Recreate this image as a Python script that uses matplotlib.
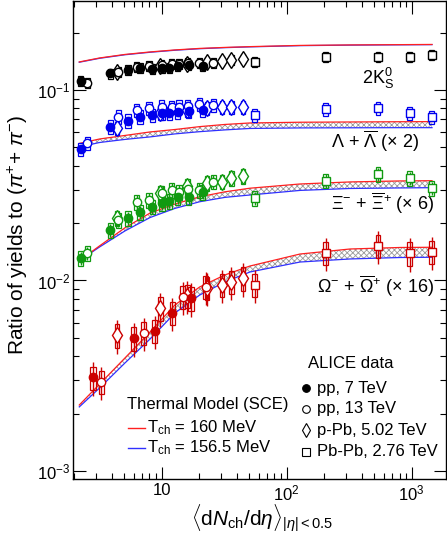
import matplotlib
matplotlib.use("Agg")
import matplotlib.pyplot as plt
from matplotlib.patches import Rectangle
import numpy as np

plt.rcParams['font.family'] = ['Liberation Sans', 'DejaVu Sans']
plt.rcParams['mathtext.fontset'] = 'custom'
plt.rcParams['mathtext.rm'] = 'Liberation Sans'
plt.rcParams['mathtext.it'] = 'Liberation Sans:italic'
plt.rcParams['mathtext.bf'] = 'Liberation Sans:bold'
plt.rcParams['hatch.linewidth'] = 0.6
plt.rcParams['hatch.color'] = '#9a9a9a'

# multiplicity classes <dNch/deta>
x_pp7 = [2.26, 3.90, 5.40, 6.72, 8.45, 10.08, 11.51, 13.46, 16.51, 21.35]
x_pp13 = [2.55, 4.50, 6.32, 7.95, 10.02, 12.04, 13.77, 16.17, 20.02, 26.02]
x_ppb = [4.4, 9.8, 16.1, 23.2, 30.5, 36.2, 45.0]
x_pbpb = [55.5, 205.0, 537.5, 966.0, 1447.5]
x_pp7_omega = [2.84, 6.0, 8.8, 12.2, 17.2]
x_pp13_omega = [3.3, 7.2, 14.8, 22.5]

# 2 K0S
k0s_pp7 = [0.111, 0.122, 0.127, 0.130, 0.129, 0.130, 0.131, 0.133, 0.135, 0.134]
k0s_pp13 = [0.109, 0.124, 0.132, 0.134, 0.136, 0.137, 0.137, 0.138, 0.139, 0.139]
k0s_ppb = [0.124, 0.134, 0.137, 0.140, 0.142, 0.144, 0.145]
k0s_pbpb = [0.140, 0.149, 0.149, 0.149, 0.153]

# Lambda + anti-Lambda (x2)
lam_pp7 = [0.0490, 0.0642, 0.0690, 0.0724, 0.0739, 0.0755, 0.0755, 0.0769, 0.0776, 0.0785]
lam_pp13 = [0.0525, 0.0724, 0.0785, 0.0802, 0.0817, 0.0814, 0.0817, 0.0824, 0.0844, 0.0834]
lam_ppb = [0.0632, 0.0758, 0.0785, 0.0805, 0.0814, 0.0814, 0.0814]
lam_pbpb = [0.0739, 0.0795, 0.0804, 0.0757, 0.0722]

# Xi (x6)
xi_pp7 = [0.0131, 0.0184, 0.0212, 0.0228, 0.0244, 0.0254, 0.0262, 0.0275, 0.0275, 0.0290]
xi_pp13 = [0.0139, 0.0208, 0.0259, 0.0265, 0.0287, 0.0299, 0.0292, 0.0301, 0.0299, 0.0330]
xi_ppb = [0.0213, 0.0288, 0.0313, 0.0325, 0.0330, 0.0345, 0.0354]
xi_pbpb = [0.0270, 0.0334, 0.0362, 0.0344, 0.0305]

# Omega (x16)
om_pp7 = [0.00310, 0.00497, 0.00543, 0.00678, 0.00806]
om_pp13 = [0.00294, 0.00532, 0.00819, 0.00925]
om_ppb = [0.00517, 0.00715, 0.00829, 0.00913, 0.00947, 0.00982, 0.01027]
om_pbpb = [0.00947, 0.01399, 0.01517, 0.01389, 0.01416]

# relative systematic / statistical uncertainties (K0S, Lambda, Xi, Omega)
sys_rel = [0.06, 0.08, 0.09, 0.14]
stat_rel = [0.02, 0.04, 0.08, 0.20]

# thermal model (SCE)
x_tm = [2.2, 3.2, 5.1, 8.1, 12.8, 20.2, 32.1, 50.9, 128, 321, 806, 1453]
k0s_160 = [0.1403, 0.1472, 0.1536, 0.1583, 0.1622, 0.1652, 0.1672, 0.1688, 0.1713, 0.1723, 0.1729, 0.1733]
k0s_156 = [0.1398, 0.1466, 0.1530, 0.1577, 0.1616, 0.1646, 0.1667, 0.1683, 0.1708, 0.1719, 0.1725, 0.1729]
lam_160 = [0.0524, 0.0553, 0.0577, 0.0602, 0.0620, 0.0642, 0.0659, 0.0671, 0.0677, 0.0679, 0.0681, 0.0682]
lam_156 = [0.0502, 0.0530, 0.0550, 0.0567, 0.0588, 0.0604, 0.0617, 0.0628, 0.0632, 0.0633, 0.0634, 0.0634]
xi_160 = [0.0127, 0.0152, 0.0189, 0.0226, 0.0252, 0.0275, 0.0292, 0.0305, 0.0321, 0.0329, 0.0333, 0.0334]
xi_156 = [0.0127, 0.0150, 0.0182, 0.0214, 0.0239, 0.0259, 0.0273, 0.0281, 0.0297, 0.0304, 0.0306, 0.0307]
om_160 = [0.00222, 0.00286, 0.00392, 0.00537, 0.00744, 0.00925, 0.01069, 0.01191, 0.01377, 0.01463, 0.01490, 0.01494]
om_156 = [0.00217, 0.00273, 0.00369, 0.00493, 0.00675, 0.00839, 0.00982, 0.01108, 0.01250, 0.01297, 0.01320, 0.01324]

BLACK = 'black'
BLUE = '#0000ee'
GREEN = '#109a10'
RED = '#cc0000'


def draw_points(ax, x, y, color, marker, filled, sys, stat, ms, boxw=1.05):
    x = np.array(x)
    y = np.array(y)
    for xi, yi in zip(x, y):
        ax.add_patch(Rectangle((xi / boxw, yi * (1 - sys)), xi * boxw - xi / boxw,
                               2 * sys * yi, fill=False, edgecolor=color, lw=0.9, zorder=4))
    ax.errorbar(x, y, yerr=stat * y, fmt='none', ecolor=color, elinewidth=1.0, zorder=5)
    ax.plot(x, y, linestyle='none', marker=marker, markersize=ms,
            markerfacecolor=color if filled else 'white', markeredgecolor=color,
            markeredgewidth=1.0, zorder=6)


def draw_model(ax, hi, lo, band=True):
    if band:
        ax.fill_between(x_tm, lo, hi, facecolor='white', edgecolor='#9a9a9a',
                        hatch='xxxxxx', linewidth=0, zorder=1)
    ax.plot(x_tm, lo, color='#3030ff', lw=0.9, zorder=2)
    ax.plot(x_tm, hi, color='#ff2020', lw=0.9, zorder=2)


def main():
    fig = plt.figure(figsize=(4.47, 5.38), dpi=100)
    ax = fig.add_axes([73 / 447, 59 / 538, 373 / 447, 478 / 538])
    ax.set_xscale('log')
    ax.set_yscale('log')
    ax.set_xlim(1.96, 1880)
    ax.set_ylim(9.08e-4, 0.293)

    draw_model(ax, k0s_160, k0s_156, band=False)
    draw_model(ax, lam_160, lam_156)
    draw_model(ax, xi_160, xi_156)
    draw_model(ax, om_160, om_156)

    species = [
        (k0s_pp7, k0s_pp13, k0s_ppb, k0s_pbpb, BLACK, x_pp7, x_pp13),
        (lam_pp7, lam_pp13, lam_ppb, lam_pbpb, BLUE, x_pp7, x_pp13),
        (xi_pp7, xi_pp13, xi_ppb, xi_pbpb, GREEN, x_pp7, x_pp13),
        (om_pp7, om_pp13, om_ppb, om_pbpb, RED, x_pp7_omega, x_pp13_omega),
    ]
    for i, (pp7, pp13, ppb, pbpb, col, xa, xb) in enumerate(species):
        s, st = sys_rel[i], stat_rel[i]
        draw_points(ax, x_pbpb, pbpb, col, 's', False, s, st, 6.0, boxw=1.045)
        draw_points(ax, x_ppb, ppb, col, 'd', False, s, st, 8.5, boxw=1.04)
        draw_points(ax, xb, pp13, col, 'o', False, s, st, 6.0)
        draw_points(ax, xa, pp7, col, 'o', True, s, st, 6.0)

    ax.set_xticks([10, 100, 1000])
    ax.set_xticklabels(['10', '$10^{2}$', '$10^{3}$'])
    ax.set_yticks([1e-3, 1e-2, 1e-1])
    ax.set_yticklabels(['$10^{-3}$', '$10^{-2}$', '$10^{-1}$'])
    ax.tick_params(which='both', direction='in', top=True, right=True, width=0.8)
    ax.tick_params(which='major', length=9, labelsize=12, pad=3)
    ax.tick_params(which='minor', length=4.5)
    ax.tick_params(axis='y', which='major', pad=2)
    for sp in ax.spines.values():
        sp.set_linewidth(1.0)

    def ax_pos(px, py):
        return (px - 73) / 373, (479 - py) / 478

    labels = [
        (362, 78, r'2K$^{0}_{\mathrm{S}}$'),
        (331, 141, r'$\Lambda$ + $\overline{\Lambda}$ ($\times$ 2)'),
        (331, 203, r'$\Xi^{-}$ + $\overline{\Xi}^{+}$ ($\times$ 6)'),
        (317, 286, r'$\Omega^{-}$ + $\overline{\Omega}^{+}$ ($\times$ 16)'),
    ]
    for px, py, t in labels:
        ax.text(*ax_pos(px, py), t, transform=ax.transAxes, fontsize=13,
                ha='left', va='center')

    # ALICE data legend
    ax.text(*ax_pos(308, 364), 'ALICE data', transform=ax.transAxes,
            fontsize=12, ha='left', va='center')
    leg = [('o', True, 'pp, 7 TeV', 388), ('o', False, 'pp, 13 TeV', 409),
           ('d', False, 'p-Pb, 5.02 TeV', 430), ('s', False, 'Pb-Pb, 2.76 TeV', 452)]
    for m, f, t, py in leg:
        mx, my = ax_pos(306, py)
        ax.plot([mx], [my], transform=ax.transAxes, marker=m, linestyle='none',
                markersize=7 if m == 'd' else 5.5, markerfacecolor='black' if f else 'white',
                markeredgecolor='black', markeredgewidth=0.8, clip_on=False, zorder=7)
        ax.text(*ax_pos(317, py), t, transform=ax.transAxes, fontsize=12,
                ha='left', va='center')

    # thermal model legend
    ax.text(*ax_pos(127, 405), 'Thermal Model (SCE)', transform=ax.transAxes,
            fontsize=12, ha='left', va='center')
    for col, t, py in [('#ff2020', r'T$_{\mathrm{ch}}$ = 160 MeV', 428),
                       ('#3030ff', r'T$_{\mathrm{ch}}$ = 156.5 MeV', 448)]:
        x0, y0 = ax_pos(128, py)
        x1, _ = ax_pos(145, py)
        ax.plot([x0, x1], [y0, y0], color=col, lw=1.0, transform=ax.transAxes)
        ax.text(*ax_pos(147, py), t, transform=ax.transAxes, fontsize=12,
                ha='left', va='center')

    fig.text(18 / 447, 1 - 235 / 538, r'Ratio of yields to $(\pi^{+}$+ $\pi^{-})$',
             rotation=90, fontsize=15, ha='center', va='center')
    fig.text(262 / 447, 1 - 518 / 538,
             r'$\langle\mathrm{d}N_{\mathrm{ch}}/\mathrm{d}\eta\rangle_{|\eta|<0.5}$',
             fontsize=15, ha='center', va='center')

    fig.savefig('out.png', dpi=100)


if __name__ == '__main__':
    main()
